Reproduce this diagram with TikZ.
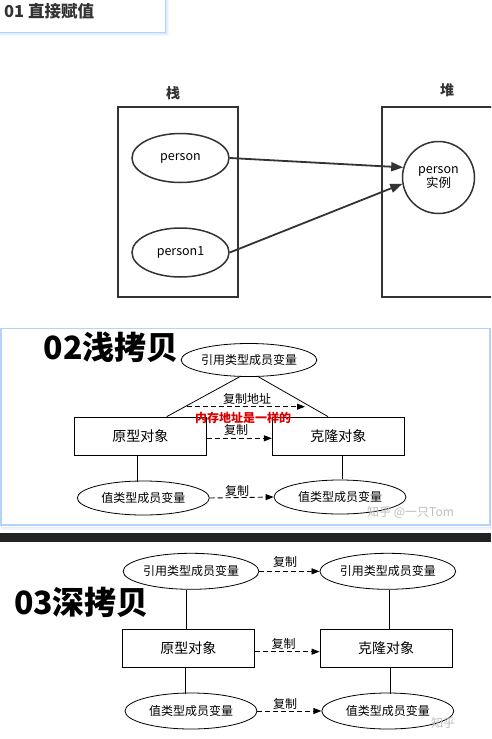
\documentclass[tikz,border=0pt]{standalone}
\usepackage{fontspec}
\setmainfont{Noto Sans CJK SC}
\usetikzlibrary{shapes.geometric,arrows.meta,calc}

\definecolor{ink}{HTML}{333333}
\definecolor{panelblue}{HTML}{B4D3FA}
\definecolor{shadowblue}{HTML}{D6E7FD}
\definecolor{bar}{HTML}{232323}
\definecolor{mark}{HTML}{BDBDBD}

\tikzset{
  % part 1: stack and heap
  memframe/.style={draw=ink, line width=1.8pt, rectangle, inner sep=0pt},
  varoval/.style={draw=ink, line width=1.5pt, ellipse, inner sep=0pt,
    minimum width=97pt, minimum height=49pt, font=\fontsize{12.5}{14}\selectfont},
  objcircle/.style={draw=ink, line width=1.5pt, circle, inner sep=0pt,
    minimum size=72pt, align=center, font=\fontsize{12.5}{14}\selectfont},
  refarrow/.style={draw=ink, line width=1.8pt, -{Triangle[length=12pt,width=9pt]}},
  areatitle/.style={font=\bfseries\fontsize{14}{16}\selectfont, text=ink},
  % parts 2 and 3: copy diagrams
  member/.style={draw, line width=0.8pt, ellipse, inner sep=0pt,
    minimum width=132pt, minimum height=34pt, font=\fontsize{12}{14}\selectfont},
  objbox/.style={draw, line width=0.8pt, rectangle, inner sep=0pt,
    minimum width=132pt, minimum height=38pt, font=\fontsize{14}{16}\selectfont},
  link/.style={draw, line width=0.8pt},
  copyarrow/.style={draw, line width=0.9pt, dash pattern=on 5pt off 3pt,
    -{Triangle[length=8pt,width=6pt]}},
  copylabel/.style={font=\fontsize{12}{14}\selectfont, inner sep=0pt},
  bigtitle/.style={font=\bfseries\fontsize{32}{34}\selectfont, inner sep=0pt},
  watermark/.style={font=\fontsize{12}{14}\selectfont, text=mark, inner sep=0pt},
}

\begin{document}
\begin{tikzpicture}[x=1pt, y=-1pt]
\useasboundingbox (0,0) rectangle (491,739);
\begin{scope}
\clip (0,0) rectangle (491,739);

% ---------- heading tab ----------
\foreach \o/\op in {4/0.25, 3/0.45, 2/0.7, 1/1} {
  \fill[shadowblue, opacity=\op] (-5,-5) rectangle (165+\o,32+\o);
}
\fill[panelblue] (-5,-5) rectangle (166,33);
\fill[white] (-5,-5) rectangle (165,32);
\node[anchor=west, font=\bfseries\fontsize{16.5}{18}\selectfont, text=ink, inner sep=0pt]
  (h1) at (4,11) {01 直接赋值};

% ---------- part 1: stack and heap ----------
\node[memframe, minimum width=120pt, minimum height=190pt] (stack) at (178,202) {};
% the heap frame runs on past the right edge, so only three sides are drawn
\node[inner sep=0pt, anchor=west, minimum width=140pt, minimum height=190pt] (heap) at (382,202) {};
\draw[draw=ink, line width=1.8pt]
  (heap.north east) -- (heap.north west) -- (heap.south west) -- (heap.south east);
\node[areatitle] (stacklbl) at (173,93) {栈};
\node[areatitle] (heaplbl) at (447,90) {堆};

\node[varoval] (p0) at (180.5,158) {person};
\node[varoval] (p1) at (180.5,252.5) {person1};
\node[objcircle] (inst) at (438.5,177.5) {person\\[0pt]实例};

\draw[refarrow] (p0.east) -- (inst.164);
\draw[refarrow] (p1.east) -- (inst.190);

% ---------- part 2: shallow copy ----------
\foreach \o/\op in {4/0.25, 3/0.45, 2/0.7} {
  \draw[shadowblue, line width=1pt, opacity=\op] (1,328) rectangle (490,525+\o);
}
\draw[panelblue, line width=1.2pt] (1,328.5) rectangle (490,525);

\node[bigtitle] (t2) at (111,347) {02浅拷贝};

\node[member, minimum height=33pt] (sref) at (249,360) {引用类型成员变量};
\node[objbox] (sproto) at (140.3,436) {原型对象};
\node[objbox] (sclone) at (338.3,436) {克隆对象};
\node[member] (sval) at (143.3,498) {值类型成员变量};
\node[member] (sval2) at (340,497) {值类型成员变量};

\draw[link] (sref.241) -- ($(sproto.north)+(26.5,0)$);
\draw[link] (sref.299) -- ($(sclone.north)+(-10.3,0)$);

\coordinate (addrA) at (186.7,406.7);
\coordinate (addrB) at (305,406.7);
\draw[copyarrow] (addrA) -- (addrB);
\node[copylabel] (addrlbl) at (247,398.5) {复制地址};
\node[font=\bfseries\fontsize{12}{14}\selectfont, text=red!85!black, inner sep=0pt]
  (same) at (243,418) {内存地址是一样的};

\draw[copyarrow] ($(sproto.east)+(0,2.3)$) -- ($(sclone.west)+(0,2.3)$);
\node[copylabel] (scp1) at (236,430) {复制};

\draw[link] ($(sproto.south)+(-2.6,0)$) -- ($(sproto.south)+(-2.6,26.5)$);
\draw[link] ($(sclone.south)+(4.4,0)$) -- ($(sclone.south)+(4.4,24)$);

\draw[copyarrow] (sval.east) -- (sval2.west);
\node[copylabel] (scp2) at (237,491) {复制};

\node[watermark, anchor=west] (wm2) at (367,512.5) {知乎 @一只Tom};

% ---------- part 3: deep copy ----------
\fill[bar] (0,533.3) rectangle (491,541.7);

\node[bigtitle] (t3) at (81.5,602) {03深拷贝};

\node[member, minimum height=36pt] (dref) at (191,571.3) {引用类型成员变量};
\node[member, minimum height=36pt] (dref2) at (387.8,571.3) {引用类型成员变量};
\node[objbox] (dproto) at (188.3,648.3) {原型对象};
\node[objbox] (dclone) at (386,648.3) {克隆对象};
\node[member, minimum height=36pt] (dval) at (191,711) {值类型成员变量};
\node[member, minimum height=36pt] (dval2) at (387.8,711) {值类型成员变量};

\draw[copyarrow] (dref.east) -- (dref2.west);
\node[copylabel] (dcp1) at (285,562) {复制};
\draw[copyarrow] ($(dproto.east)+(0,3.4)$) -- ($(dclone.west)+(0,3.4)$);
\node[copylabel] (dcp2) at (283.5,643.5) {复制};
\draw[copyarrow] (dval.east) -- (dval2.west);
\node[copylabel] (dcp3) at (285,703.5) {复制};

\draw[link] ($(dref.south)+(-4.3,0)$) -- ($(dproto.north)+(-1.6,0)$);
\draw[link] ($(dref2.south)+(1.5,0)$) -- ($(dclone.north)+(3.3,0)$);
\draw[link] ($(dproto.south)+(-3.3,0)$) -- ($(dproto.south)+(-3.3,26)$);
\draw[link] ($(dclone.south)+(4,0)$) -- ($(dclone.south)+(4,26)$);

\node[watermark] (wm3) at (443,723) {知乎};
\end{scope}
\end{tikzpicture}
\end{document}
